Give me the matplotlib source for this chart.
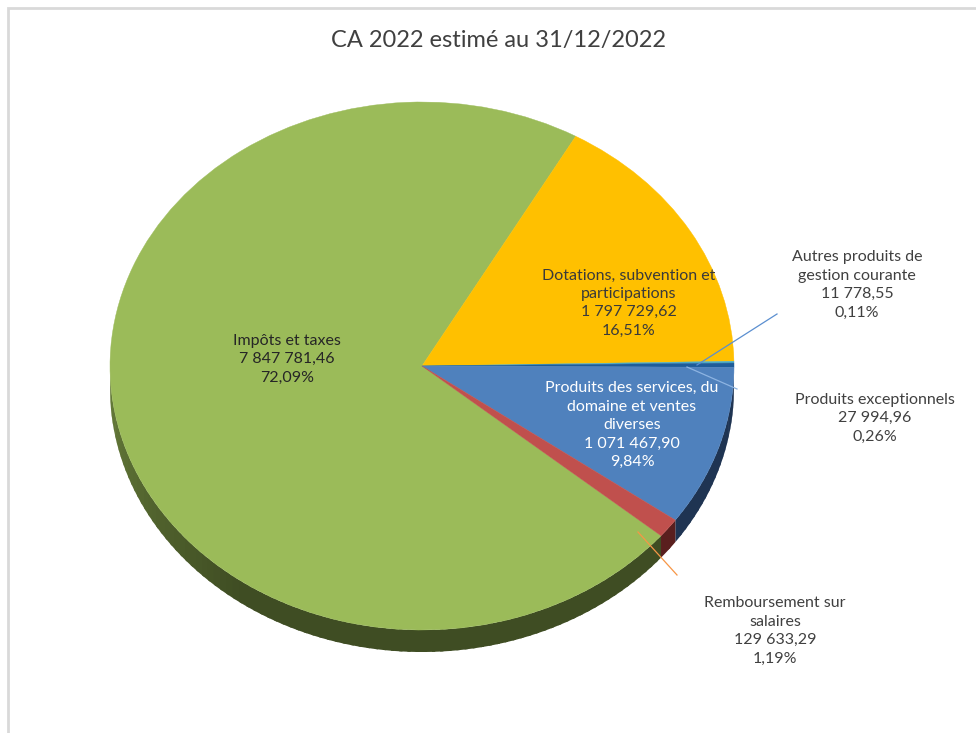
import numpy as np
import matplotlib.pyplot as plt
from matplotlib.patches import Wedge, Polygon, Rectangle
from matplotlib.colors import to_rgb

plt.rcParams['font.family'] = ['Lato', 'DejaVu Sans']

# Données du compte administratif (ordre de tracé, sens horaire)
categories = ['Impôts et taxes', 'Dotations, subvention et\nparticipations',
              'Autres produits de\ngestion courante', 'Produits exceptionnels',
              'Produits des services, du\ndomaine et ventes\ndiverses',
              'Remboursement sur\nsalaires']
montants = [7847781.46, 1797729.62, 11778.55, 27994.96, 1071467.90, 129633.29]
couleurs = ['#9BBB59', '#FFC000', '#4BACC6', '#1F5C99', '#4F81BD', '#C0504D']
cotes = ['#3F4D23', '#7F6000', '#23566A', '#10304F', '#1F3452', '#5A1F1E']

W, H = 976, 733
cx, cy, rx, ry, ep = 422, 366, 312, 264, 22

fig = plt.figure(figsize=(W / 100, H / 100), dpi=100)
ax = fig.add_axes([0, 0, 1, 1])
ax.set_xlim(-cx / rx, (W - cx) / rx)
ax.set_ylim((cy - H) / ry, cy / ry)
ax.axis('off')
prof = ep / ry


def px(x, y):
    # pixels -> coordonnées du graphique
    return (x - cx) / rx, (cy - y) / ry


# cadre
fig.patches.append(Rectangle((8, -20), W + 20, H - 8 + 20, transform=None,
                             fill=False, ec='#D9D9D9', lw=2))

total = sum(montants)
angles = [a / total * 360 for a in montants]
debut = -40.0

bornes = []
t = debut
for a in angles:
    bornes.append((t - a, t))
    t -= a

# bords des parts (effet 3D), visibles seulement sur la moitié basse
for (t1, t2), c, dessus in zip(bornes, cotes, couleurs):
    a1, a2 = t1, t2
    while a2 <= 180:
        a1 += 360
        a2 += 360
    while a1 > 360:
        a1 -= 360
        a2 -= 360
    s1, s2 = max(a1, 180), min(a2, 360)
    if s2 <= s1:
        continue
    base = np.array(to_rgb(c))
    clair = np.array(to_rgb(dessus))
    n = max(1, int((s2 - s1) / 1.5))
    ts = np.linspace(s1, s2, n + 1)
    for k in range(n):
        tt = np.radians(np.linspace(ts[k], min(ts[k + 1] + 0.6, s2), 4))
        mid = (ts[k] + ts[k + 1]) / 2
        # éclaircissement vers la gauche
        f = np.clip((235 - mid) / 55, 0, 1) * 0.45
        col = base + (clair - base) * f
        pts = list(zip(np.cos(tt), np.sin(tt))) + \
            list(zip(np.cos(tt[::-1]), np.sin(tt[::-1]) - prof))
        ax.add_patch(Polygon(pts, closed=True, fc=col, ec='none'))

# faces supérieures
for (t1, t2), c in zip(bornes, couleurs):
    ax.add_patch(Wedge((0, 0), 1, t1, t2, fc=c, ec=c, lw=0.3))

ax.set_aspect('auto')


def fmt(v):
    e, d = f'{v:,.2f}'.split('.')
    return e.replace(',', ' ') + ',' + d


# étiquettes
pcts = [f'{a / total * 100:.2f}%'.replace('.', ',') for a in montants]
positions = [(287, 359, '#262626'), (629, 303, '#3A3A3A'), (857, 285, '#404040'),
             (875, 418, '#404040'), (632, 425, 'white'), (775, 631, '#404040')]
for nom, v, p, (x, y, col) in zip(categories, montants, pcts, positions):
    ax.text(*px(x, y), f'{nom}\n{fmt(v)}\n{p}', ha='center', va='center',
            fontsize=11.5, color=col, linespacing=1.4)

# traits de rappel
for (x1, y1, x2, y2), col in zip([(777, 314, 697, 365), (687, 367, 737, 389),
                                  (638, 532, 677, 575)],
                                 ['#5B8FD0', '#8DB4E2', '#F79646']):
    (a, b), (c, d) = px(x1, y1), px(x2, y2)
    ax.plot([a, c], [b, d], color=col, lw=0.9)

ax.text(*px(498, 40), 'CA 2022 estimé au 31/12/2022', ha='center', va='center',
        fontsize=17, color='#404040')

fig.savefig('out.png', dpi=100)
